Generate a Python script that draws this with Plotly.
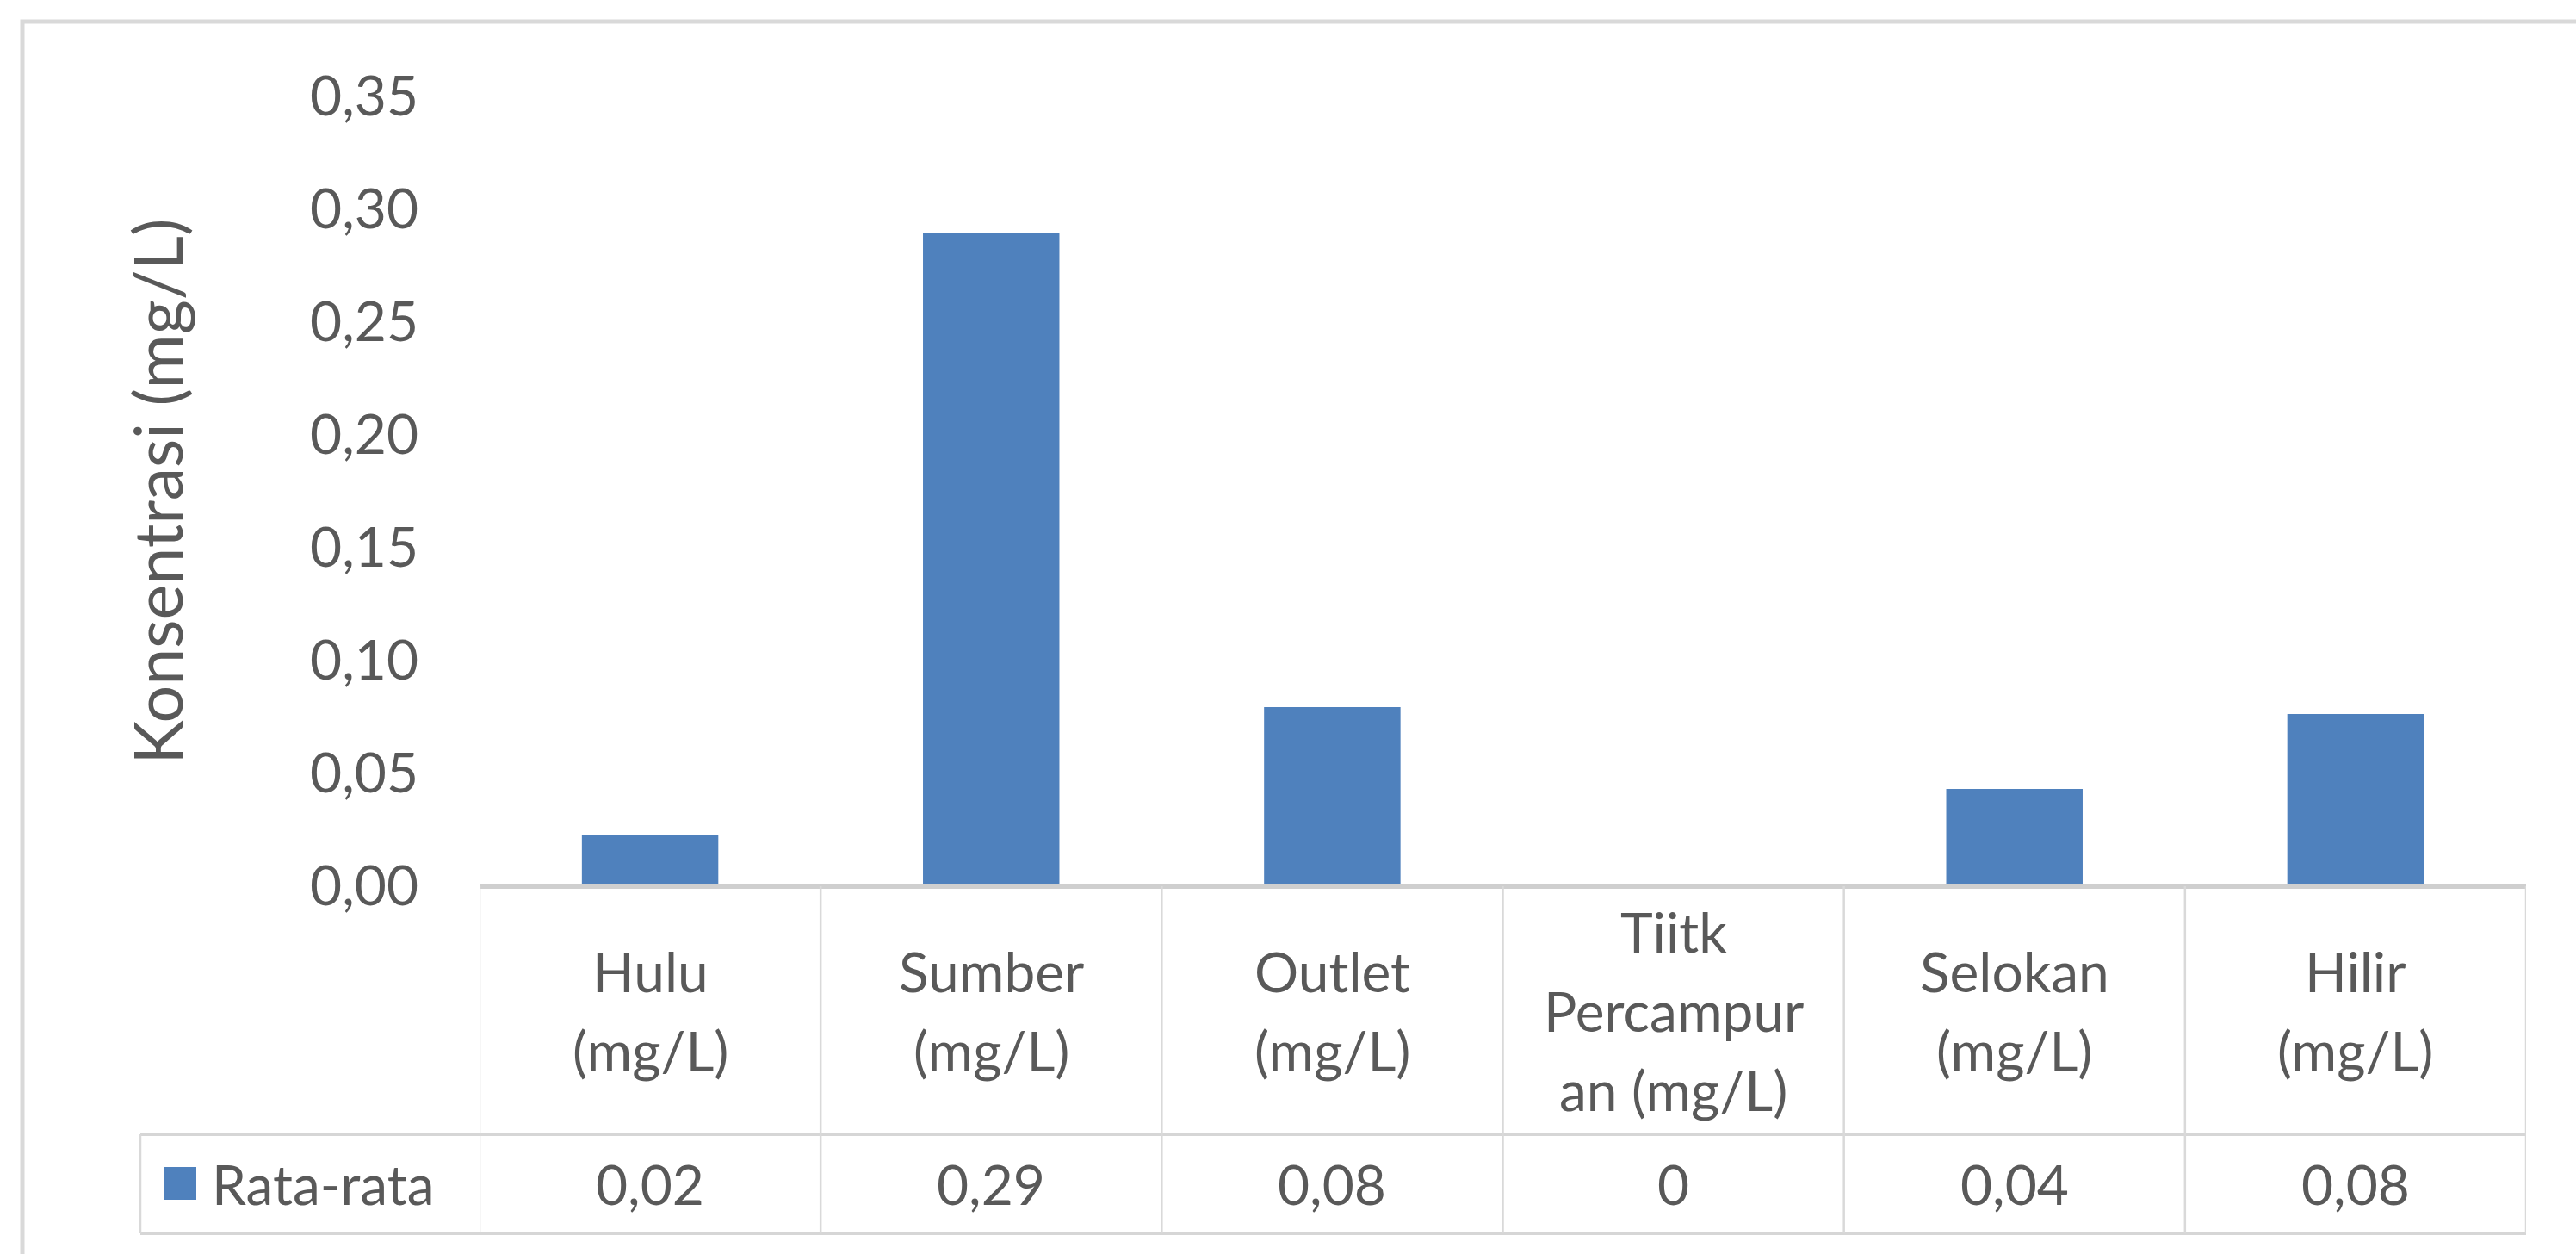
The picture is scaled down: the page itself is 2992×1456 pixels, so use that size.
import plotly.graph_objects as go

# Data
categories = ["Hulu (mg/L)", "Sumber (mg/L)", "Outlet (mg/L)",
              "Tiitk Percampuran (mg/L)", "Selokan (mg/L)", "Hilir (mg/L)"]
header_lines = [["Hulu", "(mg/L)"], ["Sumber", "(mg/L)"], ["Outlet", "(mg/L)"],
                ["Tiitk", "Percampur", "an (mg/L)"], ["Selokan", "(mg/L)"], ["Hilir", "(mg/L)"]]
rata_rata = [0.0229, 0.2897, 0.0794, 0.0, 0.0431, 0.0763]
series_name = "Rata-rata"
y_ticks = [0.00, 0.05, 0.10, 0.15, 0.20, 0.25, 0.30, 0.35]

# Styling
W, H = 2992, 1456
ML, MR, MT, MB = 557, 58, 112, 427
PW, PH = W - ML - MR, H - MT - MB
FONT = "Lato, 'Open Sans', sans-serif"
TXT = "#595959"
BAR = "#4F81BD"
GRID = "#D9D9D9"
FS = 64
LINE_STEP = 92  # pixel spacing between wrapped header lines


def px_x(p):
    return (p - ML) / PW


def px_y(p):
    return (H - MB - p) / PH


def fmt(v):
    if v == 0:
        return "0"
    return f"{v:.2f}".replace(".", ",")


fig = go.Figure()
fig.add_trace(go.Bar(
    x=categories, y=rata_rata, name=series_name,
    marker=dict(color=BAR, line=dict(width=0)),
    hoverinfo="skip",
))

n = len(categories)
row1_bot = px_y(1317)
row2_bot = px_y(1432)
legend_left = px_x(163)

shapes = []
# outer chart border
shapes.append(dict(type="rect", xref="paper", yref="paper",
                   x0=px_x(26), x1=px_x(W + 40), y0=px_y(H + 40), y1=px_y(25),
                   line=dict(color=GRID, width=5), fillcolor="rgba(0,0,0,0)", layer="below"))
# horizontal table lines
shapes.append(dict(type="line", xref="paper", yref="paper", x0=0, x1=1, y0=0, y1=0,
                   line=dict(color="#CFCFCF", width=6)))
for yy in (row1_bot, row2_bot):
    shapes.append(dict(type="line", xref="paper", yref="paper", x0=legend_left, x1=1,
                       y0=yy, y1=yy, line=dict(color="#D6D6D6", width=4)))
# vertical table lines at category boundaries
for i in range(n + 1):
    shapes.append(dict(type="line", xref="x", yref="paper", x0=i - 0.5, x1=i - 0.5,
                       y0=row2_bot, y1=0, line=dict(color=GRID, width=2.5)))
shapes.append(dict(type="line", xref="paper", yref="paper", x0=legend_left, x1=legend_left,
                   y0=row2_bot, y1=row1_bot, line=dict(color=GRID, width=2.5)))
# legend key
shapes.append(dict(type="rect", xref="paper", yref="paper",
                   x0=px_x(190), x1=px_x(228), y0=px_y(1393), y1=px_y(1355),
                   fillcolor=BAR, line=dict(width=0)))

annotations = []
hdr_mid = (0 + row1_bot) / 2
val_mid = (row1_bot + row2_bot) / 2
for cat, lines, v in zip(categories, header_lines, rata_rata):
    k = len(lines)
    for j, line in enumerate(lines):
        shift = ((k - 1) / 2 - j) * LINE_STEP
        annotations.append(dict(x=cat, y=hdr_mid, xref="x", yref="paper", text=line,
                                yshift=shift, showarrow=False,
                                xanchor="center", yanchor="middle",
                                font=dict(family=FONT, size=FS, color=TXT)))
    annotations.append(dict(x=cat, y=val_mid, xref="x", yref="paper", text=fmt(v),
                            showarrow=False, xanchor="center", yanchor="middle",
                            font=dict(family=FONT, size=FS, color=TXT)))
annotations.append(dict(x=px_x(244), y=val_mid, xref="paper", yref="paper", text=series_name,
                        showarrow=False, xanchor="left", yanchor="middle",
                        font=dict(family=FONT, size=FS, color=TXT)))
annotations.append(dict(x=px_x(181), y=0.5, xref="paper", yref="paper",
                        text="Konsentrasi (mg/L)", textangle=-90, showarrow=False,
                        xanchor="center", yanchor="middle",
                        font=dict(family=FONT, size=77, color=TXT)))

fig.update_layout(
    width=W, height=H,
    margin=dict(l=ML, r=MR, t=MT, b=MB),
    paper_bgcolor="white", plot_bgcolor="white",
    separators=",.",
    bargap=0.6,
    showlegend=False,
    font=dict(family=FONT, size=FS, color=TXT),
    xaxis=dict(range=[-0.5, n - 0.5], showticklabels=False, showgrid=False,
               zeroline=False, showline=False, ticks=""),
    yaxis=dict(range=[0, 0.35], tickvals=y_ticks, tickformat=".2f",
               showgrid=False, zeroline=False, showline=False, ticks="",
               ticklabelstandoff=70,
               tickfont=dict(family=FONT, size=FS, color=TXT)),
    shapes=shapes,
    annotations=annotations,
)

fig.write_html("out.html")
